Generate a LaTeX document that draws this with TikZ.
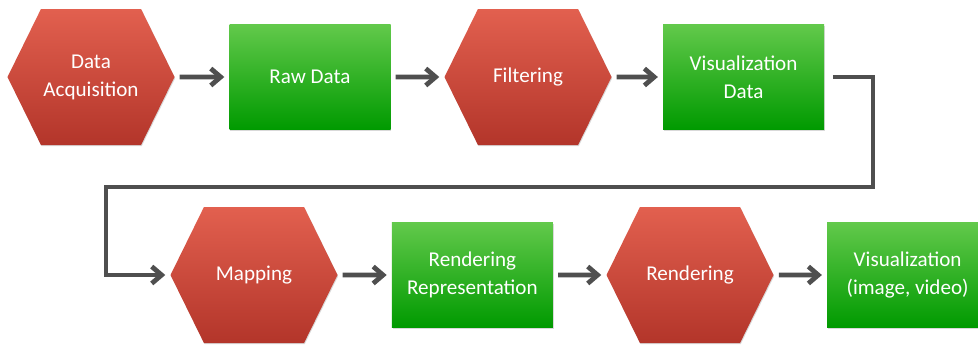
\documentclass[tikz,border=0pt]{standalone}
\usepackage{fontspec}
\setmainfont{Carlito}
\usepackage{tikz}
\usetikzlibrary{arrows.meta, positioning, shapes.symbols, shadows}
\usepackage{xcolor}
\definecolor{stepRedTop}{HTML}{E2604F}
\definecolor{stepRedBot}{HTML}{B3352A}
\definecolor{dataGreenTop}{HTML}{62C94B}
\definecolor{dataGreenBot}{HTML}{009A00}
\definecolor{flowGray}{HTML}{4F4F4F}

\begin{document}
\begin{tikzpicture}[
    >=Stealth,
    stagebox/.style={signal, signal to=west and east, signal pointer angle=127.6,
                minimum width=4.175cm, minimum height=3.4cm, inner sep=0pt,
                top color=stepRedTop, bottom color=stepRedBot,
                drop shadow={shadow xshift=0.5pt, shadow yshift=-0.8pt, opacity=0.3},
                font=\fontsize{15}{20}\selectfont, align=center, text=white},
    databox/.style={rectangle, minimum width=4.025cm, minimum height=2.625cm,
                inner sep=0pt, top color=dataGreenTop, bottom color=dataGreenBot,
                drop shadow={shadow xshift=0.5pt, shadow yshift=-0.8pt, opacity=0.3},
                font=\fontsize{15}{20}\selectfont, align=center, text=white},
    flow/.style={draw=flowGray, line width=3.4pt,
                -{Straight Barb[length=7pt, width=12pt]},
                shorten <=3.5pt, shorten >=3.5pt},
]
\useasboundingbox (0, 0) rectangle (24.45, -8.625);
\node[stagebox] (acq)       at (2.275, -1.925)  {Data\\Acquisition};
\node[databox]  (rawdata)   at (7.75, -1.925)   {Raw Data};
\node[stagebox] (filtering) at (13.2, -1.925)   {Filtering};
\node[databox]  (vizdata)   at (18.59, -1.925)  {Visualization\\Data};
\node[stagebox] (mapping)   at (6.35, -6.875)   {Mapping};
\node[databox]  (renderrep) at (11.81, -6.875)  {Rendering\\Representation};
\node[stagebox] (rendering) at (17.25, -6.875)  {Rendering};
\node[databox]  (vizout)    at (22.69, -6.875)  {Visualization\\(image, video)};
\foreach \a/\b in {acq/rawdata, rawdata/filtering, filtering/vizdata,
                   mapping/renderrep, renderrep/rendering, rendering/vizout}
    \draw[flow] (\a) -- (\b);
\coordinate (bendR) at (21.825, -4.675);
\coordinate (bendL) at (2.65, -4.675);
\draw[flow, shorten <=6pt] (vizdata.east) -- (bendR |- vizdata.east) -- (bendR)
    -- (bendL) -- (bendL |- mapping.west) -- (mapping.west);
\end{tikzpicture}
\end{document}
